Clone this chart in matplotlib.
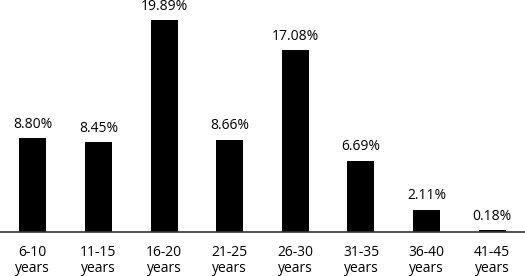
import matplotlib.pyplot as plt

# age groups and share of respondents (%)
categories = ["6-10\nyears", "11-15\nyears", "16-20\nyears", "21-25\nyears",
              "26-30\nyears", "31-35\nyears", "36-40\nyears", "41-45\nyears"]
values = [8.80, 8.45, 19.89, 8.66, 17.08, 6.69, 2.11, 0.18]

plt.rcParams['font.family'] = ['Open Sans', 'DejaVu Sans']

fig = plt.figure(figsize=(5.25, 2.76), dpi=100)
ax = fig.add_axes([0, 44 / 276, 1, 232 / 276])

bars = ax.bar(range(len(values)), values, width=0.41, color="black")
ax.bar_label(bars, labels=[f"{v:.2f}%" for v in values], padding=4.5, fontsize=10)

ax.set_xlim(-0.5, len(values) - 0.5)
ax.set_ylim(0, 21.76)
ax.set_xticks(range(len(values)))
ax.set_xticklabels(categories, fontsize=10, linespacing=1.05)
ax.tick_params(axis="x", length=0, pad=9.5)
ax.set_yticks([])
for side in ["top", "left", "right"]:
    ax.spines[side].set_visible(False)
ax.spines["bottom"].set_color("#333333")
ax.spines["bottom"].set_linewidth(1.2)

fig.savefig("out.png", dpi=100)
